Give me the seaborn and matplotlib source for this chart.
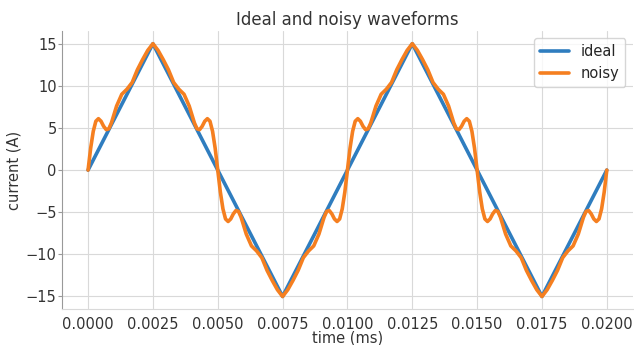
import numpy as np
import pandas as pd
import matplotlib
matplotlib.use("Agg")
import matplotlib.pyplot as plt
import seaborn as sns

# ideal triangle wave (corner points)
ideal_t = [0.0, 0.0025, 0.0075, 0.0125, 0.0175, 0.0200]
ideal_i = [0, 15, -15, 15, -15, 0]

# noisy waveform
noisy_t = [
    0.0000, 0.0001, 0.0002, 0.0003, 0.0004, 0.0005, 0.0006, 0.0007, 0.0008, 0.0009,
    0.0011, 0.0013, 0.0015, 0.0017, 0.0019, 0.0021, 0.0023, 0.0025, 0.0027, 0.0029,
    0.0031, 0.0033, 0.0035, 0.0037, 0.0039, 0.0041, 0.0042, 0.0043, 0.0044, 0.0045,
    0.0046, 0.0047, 0.0048, 0.0049,
    0.0050, 0.0051, 0.0052, 0.0053, 0.0054, 0.0055, 0.0056, 0.0057, 0.0058, 0.0059,
    0.0061, 0.0063, 0.0065, 0.0067, 0.0069, 0.0071, 0.0073, 0.0075, 0.0077, 0.0079,
    0.0081, 0.0083, 0.0085, 0.0087, 0.0089, 0.0091, 0.0092, 0.0093, 0.0094, 0.0095,
    0.0096, 0.0097, 0.0098, 0.0099,
    0.0100, 0.0101, 0.0102, 0.0103, 0.0104, 0.0105, 0.0106, 0.0107, 0.0108, 0.0109,
    0.0111, 0.0113, 0.0115, 0.0117, 0.0119, 0.0121, 0.0123, 0.0125, 0.0127, 0.0129,
    0.0131, 0.0133, 0.0135, 0.0137, 0.0139, 0.0141, 0.0142, 0.0143, 0.0144, 0.0145,
    0.0146, 0.0147, 0.0148, 0.0149,
    0.0150, 0.0151, 0.0152, 0.0153, 0.0154, 0.0155, 0.0156, 0.0157, 0.0158, 0.0159,
    0.0161, 0.0163, 0.0165, 0.0167, 0.0169, 0.0171, 0.0173, 0.0175, 0.0177, 0.0179,
    0.0181, 0.0183, 0.0185, 0.0187, 0.0189, 0.0191, 0.0192, 0.0193, 0.0194, 0.0195,
    0.0196, 0.0197, 0.0198, 0.0199, 0.0200,
]
noisy_i = [
    0.0, 2.6, 4.6, 5.8, 6.1, 5.8, 5.2, 4.8, 4.9, 5.6,
    7.6, 9.0, 9.6, 10.4, 11.9, 13.1, 14.2, 15.0, 14.2, 13.1,
    11.9, 10.4, 9.6, 9.0, 7.6, 5.6, 4.9, 4.8, 5.2, 5.8,
    6.1, 5.8, 4.6, 2.6,
    0.0, -2.6, -4.6, -5.8, -6.1, -5.8, -5.2, -4.8, -4.9, -5.6,
    -7.6, -9.0, -9.6, -10.4, -11.9, -13.1, -14.2, -15.0, -14.2, -13.1,
    -11.9, -10.4, -9.6, -9.0, -7.6, -5.6, -4.9, -4.8, -5.2, -5.8,
    -6.1, -5.8, -4.6, -2.6,
    0.0, 2.6, 4.6, 5.8, 6.1, 5.8, 5.2, 4.8, 4.9, 5.6,
    7.6, 9.0, 9.6, 10.4, 11.9, 13.1, 14.2, 15.0, 14.2, 13.1,
    11.9, 10.4, 9.6, 9.0, 7.6, 5.6, 4.9, 4.8, 5.2, 5.8,
    6.1, 5.8, 4.6, 2.6,
    0.0, -2.6, -4.6, -5.8, -6.1, -5.8, -5.2, -4.8, -4.9, -5.6,
    -7.6, -9.0, -9.6, -10.4, -11.9, -13.1, -14.2, -15.0, -14.2, -13.1,
    -11.9, -10.4, -9.6, -9.0, -7.6, -5.6, -4.9, -4.8, -5.2, -5.8,
    -6.1, -5.8, -4.6, -2.6, 0.0,
]

sns.set_style("whitegrid", {
    "grid.color": "#d9d9d9",
    "axes.edgecolor": "#d9d9d9",
    "xtick.bottom": False,
    "ytick.left": True,
})
plt.rcParams["font.family"] = ["DejaVu Sans"]

fig, ax = plt.subplots(figsize=(6.34, 3.45), dpi=100)
fig.subplots_adjust(left=0.098, right=0.998, top=0.91, bottom=0.104)

sns.lineplot(x=ideal_t, y=ideal_i, ax=ax, color="#2f7dbf", lw=2.6, label="ideal")
sns.lineplot(x=noisy_t, y=noisy_i, ax=ax, color="#f57f20", lw=2.6, label="noisy", sort=False)

ax.spines["left"].set_color("#999999")
ax.spines["right"].set_visible(False)
ax.spines["top"].set_visible(False)
ax.tick_params(axis="y", length=3, width=0.8, pad=1, colors="#999999",
               labelcolor="#333333", labelsize=10.5)
ax.tick_params(axis="x", pad=2, labelcolor="#333333", labelsize=10.5)

ax.set_xticks([0.0, 0.0025, 0.005, 0.0075, 0.01, 0.0125, 0.015, 0.0175, 0.02])
ax.set_xticklabels([f"{v:.4f}" for v in ax.get_xticks()])
ax.set_yticks([-15, -10, -5, 0, 5, 10, 15])
ax.set_yticklabels(["\u221215", "\u221210", "\u22125", "0", "5", "10", "15"])
ax.set_xlim(-0.001, 0.021)
ax.set_ylim(-16.5, 16.5)

ax.set_xlabel("time (ms)", fontsize=10.5, color="#333333", labelpad=-1)
ax.set_ylabel("current (A)", fontsize=10.5, color="#333333", labelpad=3)
ax.set_title("Ideal and noisy waveforms", fontsize=12, color="#333333", pad=4)
ax.legend(loc="upper right", fontsize=10.5, frameon=True, handlelength=2.0)

fig.savefig("out.png", dpi=100)
